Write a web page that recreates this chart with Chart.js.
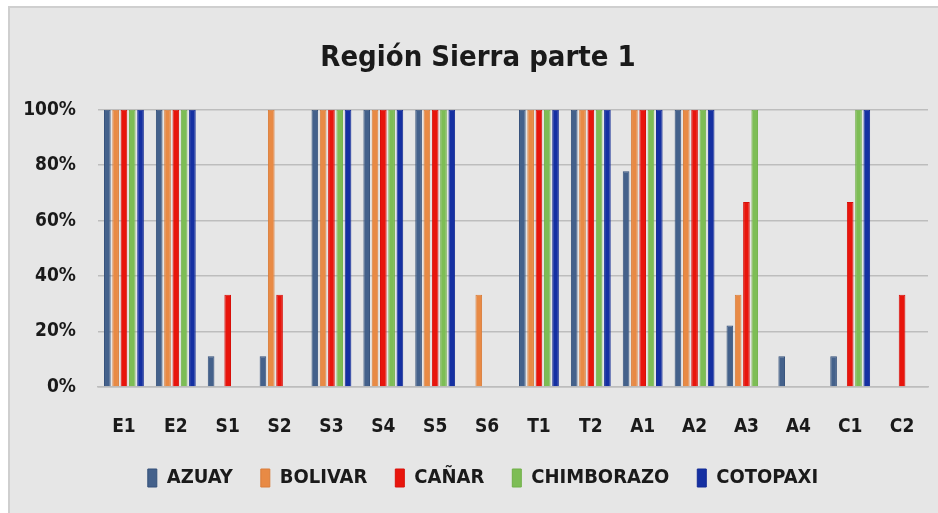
<!DOCTYPE html>
<html>
<head>
<meta charset="utf-8">
<script src="https://cdn.jsdelivr.net/npm/chart.js@4/dist/chart.umd.min.js"></script>
<style>
  html, body { margin: 0; padding: 0; background: #ffffff; }
  #frame { position: absolute; left: 8px; top: 6px; width: 930px; height: 507px; background: #e6e6e6; border-left: 2px solid #cfcfcf; border-top: 2px solid #cfcfcf; box-sizing: border-box; }
  #wrap { position: absolute; left: 0; top: 0; width: 938px; height: 513px; }
</style>
</head>
<body>
<div id="frame"></div>
<div id="wrap"><canvas id="c" width="938" height="513"></canvas></div>
<script>
const categories = ["E1","E2","S1","S2","S3","S4","S5","S6","T1","T2","A1","A2","A3","A4","C1","C2"];
const seriesNames = ["AZUAY","BOLIVAR","CAÑAR","CHIMBORAZO","COTOPAXI"];
const azuay      = [100,100,11.1,11.1,100,100,100,0,100,100,77.8,100,22.2,11.1,11.1,0];
const bolivar    = [100,100,0,100,100,100,100,33.3,100,100,100,100,33.3,0,0,0];
const canar      = [100,100,33.3,33.3,100,100,100,0,100,100,100,100,66.7,0,66.7,33.3];
const chimborazo = [100,100,0,0,100,100,100,0,100,100,100,100,100,0,100,0];
const cotopaxi   = [100,100,0,0,100,100,100,0,100,100,100,100,0,0,100,0];
const yTicks = [0,20,40,60,80,100];

const fillColors = ["#44618b","#e88a45","#e8150c","#7dbd55","#1530a2"];
const borderColors = ["#34507a","#da7d3a","#d8100a","#70b048","#122a95"];
const values = [azuay, bolivar, canar, chimborazo, cotopaxi];

const FONT = "'DejaVu Sans Condensed', 'Liberation Sans Narrow', sans-serif";

const shiftPlugin = {
  id: 'shiftBoxes',
  afterLayout(chart) {
    if (chart.legend) { chart.legend.left += 19; chart.legend.right += 19; }
    if (chart.titleBlock) { chart.titleBlock.left += 14; chart.titleBlock.right += 14; }
  }
};

new Chart(document.getElementById('c'), {
  type: 'bar',
  data: {
    labels: categories,
    datasets: seriesNames.map((n, i) => ({
      label: n,
      data: values[i],
      backgroundColor: fillColors[i],
      borderColor: borderColors[i],
      borderWidth: 1,
      categoryPercentage: 0.8,
      barPercentage: 0.8
    }))
  },
  plugins: [shiftPlugin],
  options: {
    responsive: false,
    animation: false,
    layout: { padding: { left: 0, right: 10, top: 0, bottom: 15 } },
    plugins: {
      title: {
        display: true,
        text: 'Región Sierra parte 1',
        color: '#1a1a1a',
        font: { family: FONT, size: 29, weight: 'bold' },
        padding: { top: 41, bottom: 34 }
      },
      legend: {
        position: 'bottom',
        labels: {
          color: '#1a1a1a',
          font: { family: FONT, size: 20, weight: 'bold' },
          boxWidth: 9,
          boxHeight: 18,
          padding: 28
        }
      },
      tooltip: { enabled: false }
    },
    scales: {
      x: {
        afterFit: (s) => { s.height = 53; },
        grid: { display: false },
        border: { display: true, color: '#bdbdbd', width: 1.5 },
        ticks: { color: '#1a1a1a', font: { family: FONT, size: 19, weight: 'bold' }, padding: 21 }
      },
      y: {
        min: 0, max: 100,
        afterFit: (s) => { s.width = 98; },
        afterBuildTicks: (s) => { s.ticks = yTicks.map(v => ({ value: v })); },
        grid: { color: '#bdbdbd', lineWidth: 1.5, drawTicks: false },
        border: { display: false },
        ticks: { color: '#1a1a1a', font: { family: FONT, size: 19, weight: 'bold' }, padding: 22,
                 callback: (v) => v + '%' }
      }
    }
  }
});
</script>
</body>
</html>
